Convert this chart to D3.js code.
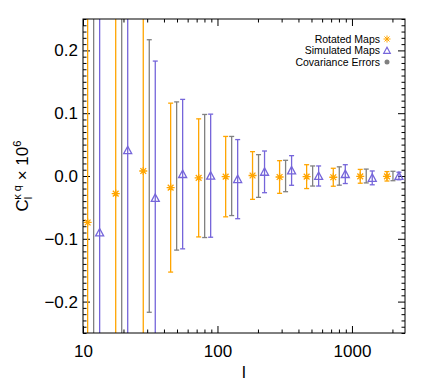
<!DOCTYPE html>
<html>
<head>
<meta charset="utf-8">
<script src="https://cdn.jsdelivr.net/npm/d3@7"></script>
<style>
  body { margin: 0; background: #fff; }
  svg { font-family: "Liberation Sans", Arial, Helvetica, sans-serif; }
</style>
</head>
<body>
<svg id="chart" width="436" height="392"></svg>
<script>
// multipole bin centres
var ell = [12, 19.4, 31.1, 49.7, 80.3, 127.5, 202, 321, 510, 805, 1277, 2018];

// rotated maps (orange asterisks)
var rotVal = [-0.074, -0.028, 0.008, -0.0185, -0.003, -0.001, 0.0008, -0.0016, -0.001, -0.002, -0.0005, -0.0005];
var rotErr = [0.40, 0.34, 0.30, 0.1345, 0.094, 0.064, 0.038, 0.026, 0.019, 0.0143, 0.011, 0.0075];

// covariance errors (grey, centred on zero)
var covVal = [0, 0, 0, 0, 0, 0, 0, 0, 0, 0, 0, 0];
var covErr = [0.45, 0.36, 0.217, 0.118, 0.098, 0.063, 0.034, 0.025, 0.016, 0.0146, 0.011, 0.0075];

// simulated maps (purple triangles)
var simVal = [-0.090, 0.041, -0.035, 0.003, 0.0005, -0.005, 0.0066, 0.0088, 0.0, 0.003, -0.003, 0.0];
var simErr = [0.40, 0.32, 0.218, 0.119, 0.098, 0.063, 0.0332, 0.0236, 0.016, 0.015, 0.011, 0.006];

var yTicks = [-0.2, -0.1, 0.0, 0.1, 0.2];
var xTicks = [10, 100, 1000];
var legendLabels = ["Rotated Maps", "Simulated Maps", "Covariance Errors"];

var orange = "#FFA500", purple = "#7565DA", grey = "#808080";

var svg = d3.select("#chart");
var margin = { left: 83, right: 31, top: 19, bottom: 59 };
var width = 436 - margin.left - margin.right;
var height = 392 - margin.top - margin.bottom;

var x = d3.scaleLog().domain([10, 2480]).range([0, width]);
var y = d3.scaleLinear().domain([-0.25, 0.25]).range([height, 0]);

var g = svg.append("g").attr("transform", `translate(${margin.left},${margin.top})`);

svg.append("defs").append("clipPath").attr("id", "clip")
  .append("rect").attr("width", width).attr("height", height);

// ---- axes (ticks pointing inward on all four sides) ----
var yMinor = d3.range(-25, 26).map((d) => d / 100).filter((d) => Math.abs(Math.round(d * 10) - d * 10) > 1e-6);
var xMinor = [];
[10, 100, 1000].forEach((dec) => {
  for (var k = 2; k <= 9; k++) if (dec * k <= 2480) xMinor.push(dec * k);
});

function styleAxis(sel) {
  sel.select(".domain").remove();
  sel.selectAll("line").attr("stroke", "#000").attr("stroke-width", 1);
  sel.selectAll("text").attr("fill", "#000").style("font-size", "17px");
}

g.append("g")
  .call(d3.axisLeft(y).tickValues(yTicks).tickSize(-7).tickPadding(5)
    .tickFormat((d) => d.toFixed(1).replace("-", "\u2212")))
  .call(styleAxis);
g.append("g")
  .call(d3.axisLeft(y).tickValues(yMinor).tickSize(-3.5).tickFormat(""))
  .call(styleAxis);
g.append("g").attr("transform", `translate(${width},0)`)
  .call(d3.axisRight(y).tickValues(yTicks).tickSize(-7).tickFormat(""))
  .call(styleAxis);
g.append("g").attr("transform", `translate(${width},0)`)
  .call(d3.axisRight(y).tickValues(yMinor).tickSize(-3.5).tickFormat(""))
  .call(styleAxis);

g.append("g").attr("transform", `translate(0,${height})`)
  .call(d3.axisBottom(x).tickValues(xTicks).tickSize(-7).tickPadding(12).tickFormat(d3.format("d")))
  .call(styleAxis);
g.append("g").attr("transform", `translate(0,${height})`)
  .call(d3.axisBottom(x).tickValues(xMinor).tickSize(-3.5).tickFormat(""))
  .call(styleAxis);
g.append("g")
  .call(d3.axisTop(x).tickValues(xTicks).tickSize(-7).tickFormat(""))
  .call(styleAxis);
g.append("g")
  .call(d3.axisTop(x).tickValues(xMinor).tickSize(-3.5).tickFormat(""))
  .call(styleAxis);

// ---- error bars ----
var plot = g.append("g").attr("clip-path", "url(#clip)");

function errorBars(vals, errs, color, offset) {
  var grp = plot.append("g").attr("stroke", color).attr("stroke-width", 1.3).attr("fill", "none");
  ell.forEach((l, i) => {
    var cx = x(l) + offset;
    var y0 = y(vals[i] - errs[i]), y1 = y(vals[i] + errs[i]);
    grp.append("line").attr("x1", cx).attr("x2", cx).attr("y1", y0).attr("y2", y1);
    grp.append("line").attr("x1", cx - 2.5).attr("x2", cx + 2.5).attr("y1", y0).attr("y2", y0);
    grp.append("line").attr("x1", cx - 2.5).attr("x2", cx + 2.5).attr("y1", y1).attr("y2", y1);
  });
}

errorBars(rotVal, rotErr, orange, -6);
errorBars(covVal, covErr, grey, 0);
errorBars(simVal, simErr, purple, 6);

// ---- markers ----
function asterisk(r) {
  var d = r * 0.72;
  return `M${-r},0L${r},0M0,${-r}L0,${r}M${-d},${-d}L${d},${d}M${-d},${d}L${d},${-d}`;
}
function triangle(r) {
  return `M0,${-r}L${r},${r * 0.85}L${-r},${r * 0.85}Z`;
}

plot.append("g").selectAll("path").data(rotVal).enter().append("path")
  .attr("transform", (d, i) => `translate(${x(ell[i]) - 6},${y(d)})`)
  .attr("d", asterisk(4))
  .attr("stroke", orange).attr("stroke-width", 1.3).attr("fill", "none");

plot.append("g").selectAll("path").data(simVal).enter().append("path")
  .attr("transform", (d, i) => `translate(${x(ell[i]) + 6},${y(d)})`)
  .attr("d", triangle(4))
  .attr("stroke", purple).attr("stroke-width", 1.3).attr("fill", "none");

// frame
g.append("rect").attr("width", width).attr("height", height)
  .attr("fill", "none").attr("stroke", "#000").attr("stroke-width", 1);

// ---- legend ----
var legend = g.append("g").attr("transform", `translate(${width - 25},20)`);
legendLabels.forEach((t, i) => {
  legend.append("text").attr("x", 0).attr("y", i * 11.5 + 3.5)
    .attr("text-anchor", "end").style("font-size", "10.5px").text(t);
});
legend.append("path").attr("transform", "translate(7,0)").attr("d", asterisk(3.5))
  .attr("stroke", orange).attr("stroke-width", 1).attr("fill", "none");
legend.append("path").attr("transform", "translate(7,11.5)").attr("d", triangle(3.3))
  .attr("stroke", purple).attr("stroke-width", 1.2).attr("fill", "none");
legend.append("circle").attr("cx", 7).attr("cy", 23).attr("r", 2.5).attr("fill", grey);

// ---- axis titles ----
svg.append("text").attr("x", margin.left + width / 2).attr("y", 378)
  .attr("text-anchor", "middle").style("font-size", "17px").text("l");

var yt = svg.append("text")
  .attr("transform", `translate(28,${margin.top + height / 2}) rotate(-90)`)
  .attr("text-anchor", "middle").style("font-size", "17px");
yt.append("tspan").text("C");
yt.append("tspan").attr("dy", 4).style("font-size", "11px").text("l");
yt.append("tspan").attr("dx", -3).attr("dy", -11).style("font-size", "11px").text("\u03BA q");
yt.append("tspan").attr("dy", 7).text(" \u00D7 10");
yt.append("tspan").attr("dy", -7).style("font-size", "11px").text("6");
</script>
</body>
</html>
